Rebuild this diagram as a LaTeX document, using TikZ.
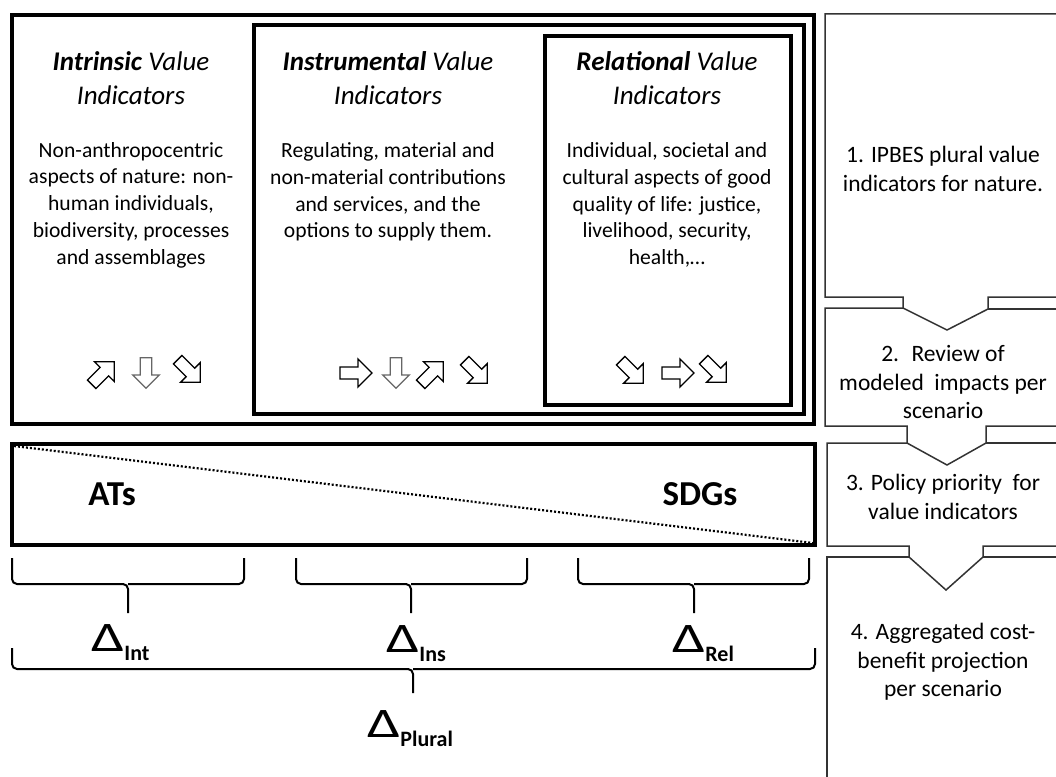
\documentclass[tikz,border=0pt]{standalone}
\usepackage{fontspec}
\setmainfont{Carlito}
\newcommand{\dlab}[1]{{\fontsize{42}{42}\selectfont\scalebox{1.4}[1]{Δ}}\raisebox{-9pt}{\fontsize{22}{22}\selectfont\bfseries #1}}
\begin{document}
\begin{tikzpicture}[x=1pt,y=-1pt,
  thickbox/.style={line width=4pt},
  flowline/.style={line width=1.5pt, draw=black!80},
  bracestyle/.style={line width=2pt, rounded corners=5pt},
  titletext/.style={inner sep=0pt, align=center, font=\fontsize{27}{34}\selectfont},
  bodytext/.style={inner sep=0pt, align=center, font=\fontsize{21.6}{26.8}\selectfont},
  steptext/.style={inner sep=0pt, align=center, font=\fontsize{23.5}{28.5}\selectfont},
  bigtext/.style={inner sep=0pt, font=\fontsize{35}{35}\selectfont\bfseries},
  deltatext/.style={inner sep=0pt, anchor=base west},
  blockarrow/.pic={\draw[line width=1.3pt, fill=white] (-16,-6) -- (2,-6) -- (2,-14) -- (16,0) -- (2,14) -- (2,6) -- (-16,6) -- cycle;},
  greyarrow/.pic={\draw[line width=1.3pt, draw=black!60, fill=white] (-16,-6) -- (2,-6) -- (2,-14) -- (16,0) -- (2,14) -- (2,6) -- (-16,6) -- cycle;}
]
\useasboundingbox (0,0) rectangle (1056,776);

% nested value boxes
\draw[thickbox] (12,15) rectangle (814,424);
\draw[thickbox] (254,25) rectangle (804,414);
\draw[thickbox] (545,36) rectangle (791,405);

% titles
\node[titletext] (tint) at (131,78) {\textbf{\textit{Intrinsic}} \textit{Value}\\\textit{Indicators}};
\node[titletext] (tins) at (388,78) {\textbf{\textit{Instrumental}} \textit{Value}\\\textit{Indicators}};
\node[titletext] (trel) at (667,78) {\textbf{\textit{Relational}} \textit{Value}\\\textit{Indicators}};

% bodies
\node[bodytext] (bint) at (131,205) {Non-anthropocentric\\aspects of nature: non-\\human individuals,\\biodiversity, processes\\and assemblages};
\node[bodytext] (bins) at (388,192) {Regulating, material and\\non-material contributions\\and services, and the\\options to supply them.};
\node[bodytext] (brel) at (667,205) {Individual, societal and\\cultural aspects of good\\quality of life: justice,\\livelihood, security,\\health,…};

% block arrows
\pic[scale=1.0, rotate=45] at (103,373) {blockarrow};
\pic[scale=0.95, rotate=-90] at (146,373) {greyarrow};
\pic[scale=1.0, rotate=-45] at (189,371) {blockarrow};

\pic[rotate=0] at (356,373) {blockarrow};
\pic[scale=0.95, rotate=-90] at (396,373) {greyarrow};
\pic[scale=1.0, rotate=45] at (432,373) {blockarrow};
\pic[scale=1.0, rotate=-45] at (476,372) {blockarrow};

\pic[scale=1.0, rotate=-45] at (632,372) {blockarrow};
\pic[rotate=0] at (678,373) {blockarrow};
\pic[scale=1.0, rotate=-45] at (715,371) {blockarrow};

% ATs / SDGs box
\draw[thickbox] (12,444) rectangle (815,545);
\draw[line width=2.2pt, dash pattern=on 2pt off 2pt] (14,446) -- (813,543);
\node[bigtext] (ats) at (112,494) {ATs};
\node[bigtext] (sdgs) at (700,494) {SDGs};

% small braces
\draw[bracestyle] (12,558) -- (12,584) -- (128,584) -- (128,613);
\draw[bracestyle] (244,558) -- (244,584) -- (128,584);
\draw[bracestyle] (296,558) -- (296,584) -- (411,584) -- (411,613);
\draw[bracestyle] (527,558) -- (527,584) -- (411,584);
\draw[bracestyle] (578,558) -- (578,584) -- (694,584) -- (694,613);
\draw[bracestyle] (809,558) -- (809,584) -- (694,584);

% delta labels
\node[deltatext] (dint) at (91,651) {\dlab{Int}};
\node[deltatext] (dins) at (386,652) {\dlab{Ins}};
\node[deltatext] (drel) at (672,652) {\dlab{Rel}};

% big brace
\draw[bracestyle] (12,648) -- (12,669) -- (413,669) -- (413,693);
\draw[bracestyle] (815,648) -- (815,669) -- (413,669);
\node[deltatext] (dplural) at (367,737) {\dlab{Plural}};

% right column
\draw[flowline] (1060,14) -- (825,14) -- (825,297) -- (903,297) -- (903,308) -- (947,330) -- (988,309) -- (988,297) -- (1060,297);
\draw[flowline] (903,308) -- (825,308) -- (825,426) -- (907,426) -- (907,443) -- (947,465) -- (986,443) -- (986,426) -- (1060,426);
\draw[flowline] (988,309) -- (1060,309);
\draw[flowline] (907,443) -- (827,443) -- (827,546) -- (909,546) -- (909,557) -- (946,590) -- (983,557) -- (983,546) -- (1060,546);
\draw[flowline] (986,443) -- (1060,443);
\draw[flowline] (909,557) -- (827,557) -- (827,780);
\draw[flowline] (983,557) -- (1060,557);

\node[steptext] (s1) at (943,169) {1. IPBES plural value\\indicators for nature.};
\node[steptext] (s2) at (943,382) {2.~ Review of\\modeled~ impacts per\\scenario};
\node[steptext] (s3) at (943,497) {3. Policy priority~ for\\value indicators};
\node[steptext] (s4) at (943,662) {4. Aggregated cost-\\benefit projection\\per scenario};
\end{tikzpicture}
\end{document}
